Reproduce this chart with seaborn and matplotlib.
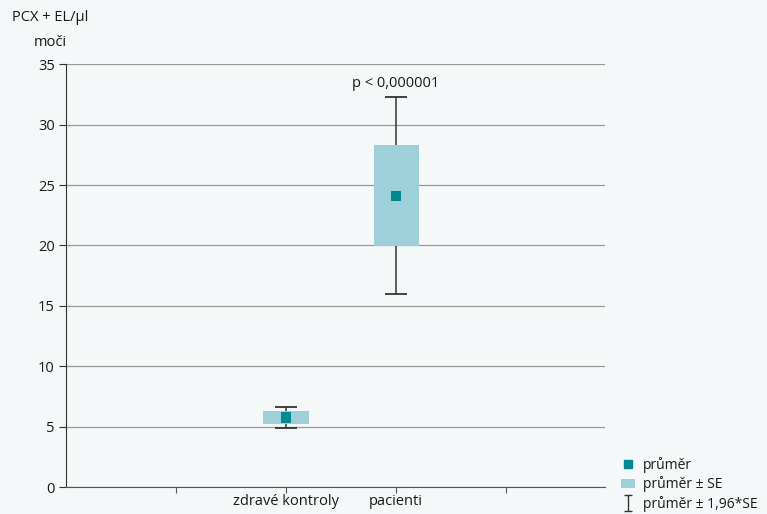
import pandas as pd
import matplotlib.pyplot as plt
import seaborn as sns
from matplotlib.lines import Line2D
from matplotlib.patches import Patch
from matplotlib.path import Path

groups = ["zdravé kontroly", "pacienti"]
group_pos = [2, 3]
means = [5.75, 24.1]
se_low = [5.2, 19.95]
se_high = [6.3, 28.3]
ci_low = [4.9, 16.0]
ci_high = [6.65, 32.25]
y_ticks = [0, 5, 10, 15, 20, 25, 30, 35]
p_text = "p < 0,000001"
legend_labels = ["průměr", "průměr ± SE", "průměr ± 1,96*SE"]

df = pd.DataFrame({"group": groups, "pos": group_pos, "mean": means,
                   "se_low": se_low, "se_high": se_high,
                   "ci_low": ci_low, "ci_high": ci_high})

bg = "#f5f8f8"
box_color = "#9dd0d9"
mean_color = "#00878f"
txt = "#1a1a1a"

sns.set_style("white")
plt.rcParams["font.family"] = ["Open Sans", "DejaVu Sans"]

fig = plt.figure(figsize=(7.67, 5.14), dpi=100, facecolor=bg)
ax = fig.add_axes([0.086, 0.0525, 0.703, 0.8225])
ax.set_facecolor(bg)

# whiskers (mean +- 1.96*SE)
ax.errorbar(df["pos"], df["mean"],
            yerr=[df["mean"] - df["ci_low"], df["ci_high"] - df["mean"]],
            fmt="none", ecolor="#333333", elinewidth=1.1, capsize=7.8, capthick=1.3, zorder=2)
# boxes (mean +- SE)
ax.bar(df["pos"], df["se_high"] - df["se_low"], bottom=df["se_low"], width=0.41,
       color=box_color, edgecolor="none", zorder=3)
sns.scatterplot(data=df, x="pos", y="mean", ax=ax, marker="s", s=55, color=mean_color,
                edgecolor="none", zorder=4, legend=False)

ax.text(3, 33.4, p_text, ha="center", va="center", fontsize=10.5, color=txt)

ax.set_xlim(0, 4.9)
ax.set_ylim(0, 35)
ax.set_yticks(y_ticks)
ax.set_xticks([1, 2, 3, 4])
ax.set_xticklabels([""] + groups + [""])
ax.yaxis.grid(True, color="#999999", linewidth=0.9)
ax.set_axisbelow(True)
ax.set_xlabel("")
ax.set_ylabel("")
for s in ["top", "right"]:
    ax.spines[s].set_visible(False)
ax.spines["left"].set_color("#333333")
ax.spines["bottom"].set_color("#555555")
ax.tick_params(axis="y", left=True, length=5, color="#333333", labelsize=10.5, pad=3, labelcolor=txt)
ax.tick_params(axis="x", bottom=True, length=4, color="#555555", labelsize=10.5, pad=1, labelcolor=txt)

fig.text(0.065, 0.965, "PCX + EL/µl", ha="center", va="center", fontsize=10.5, color=txt)
fig.text(0.065, 0.918, "moči", ha="center", va="center", fontsize=10.5, color=txt)

whisker_path = Path([(-0.5, 1), (0.5, 1), (0, 1), (0, -1), (-0.5, -1), (0.5, -1)],
                    [Path.MOVETO, Path.LINETO, Path.MOVETO, Path.LINETO, Path.MOVETO, Path.LINETO])
handles = [
    Line2D([], [], marker="s", linestyle="none", color=mean_color, markersize=5.5),
    Patch(facecolor=box_color, edgecolor="none"),
    Line2D([], [], marker=whisker_path, linestyle="none", markerfacecolor="none",
           markeredgecolor="#333333", markeredgewidth=1.0, markersize=11),
]
fig.legend(handles, legend_labels, loc="lower left", bbox_to_anchor=(0.8096, 0.004),
           frameon=False, fontsize=10, handlelength=1.0, handletextpad=0.6,
           labelspacing=0.25, borderpad=0, borderaxespad=0, labelcolor=txt)

fig.savefig("out.png", dpi=100, facecolor=bg)
